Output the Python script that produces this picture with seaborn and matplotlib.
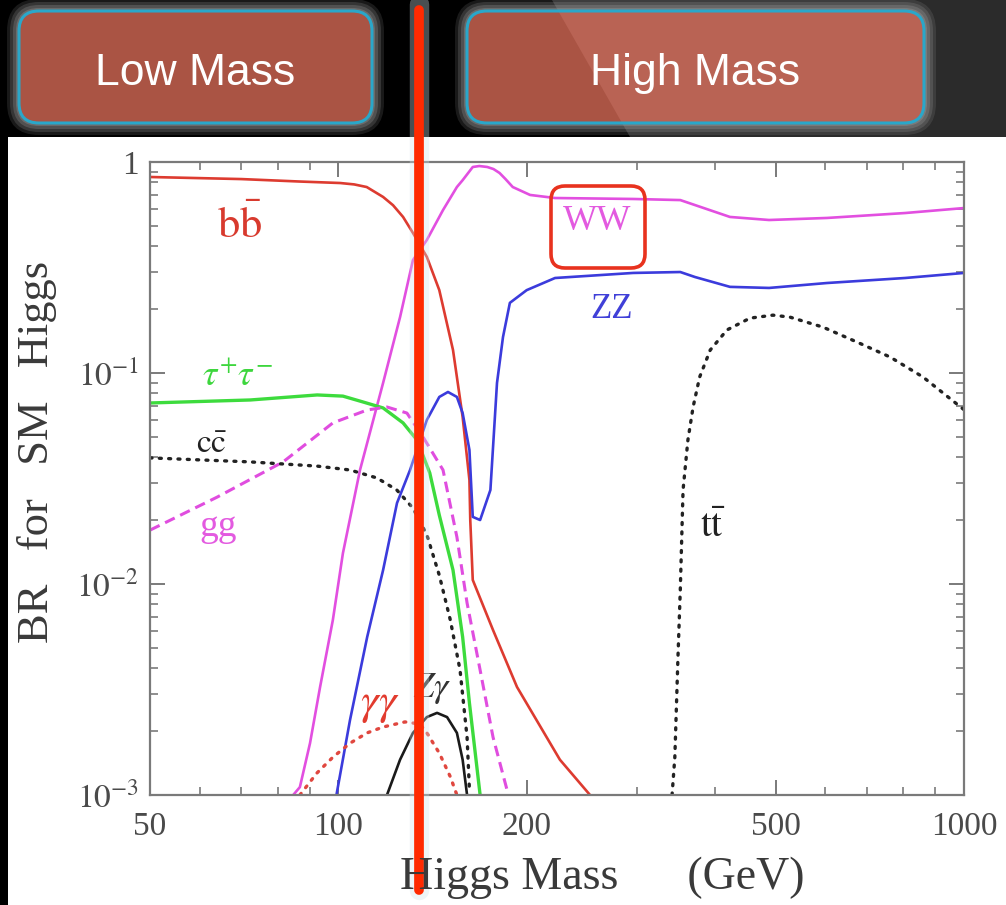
import math

import matplotlib
matplotlib.use("Agg")
import matplotlib.pyplot as plt
from matplotlib.patches import FancyBboxPatch, Polygon, Rectangle
from matplotlib.ticker import FixedLocator, LogLocator, NullFormatter, FuncFormatter
import seaborn as sns

# Higgs branching ratios (mass in GeV, BR)
mass_bb = [50, 70, 86.8, 93, 100.7, 106, 111, 117.9, 122.3, 126.9, 131.6, 138.5, 145, 152.5, 158, 162, 162.5, 164, 176.7, 193, 226, 252.5]
br_bb = [0.849, 0.83, 0.808, 0.802, 0.795, 0.783, 0.761, 0.683, 0.624, 0.549, 0.461, 0.355, 0.247, 0.1285, 0.0619, 0.0311, 0.0201, 0.01045, 0.00605, 0.00325, 0.00147, 0.001]

mass_ww = [84.7, 86.8, 90.1, 93.5, 98, 101.7, 108.3, 117.9, 125.5, 131.6, 138.5, 147, 154.7, 158, 164, 168, 173, 177, 181, 185, 190, 202.5, 222, 296, 352, 371.6, 422.6, 488, 604, 805, 1000]
br_ww = [0.001, 0.00109, 0.00176, 0.00325, 0.00675, 0.014, 0.0347, 0.0897, 0.184, 0.343, 0.427, 0.592, 0.761, 0.82, 0.947, 0.957, 0.947, 0.926, 0.887, 0.83, 0.761, 0.698, 0.675, 0.668, 0.660, 0.625, 0.549, 0.531, 0.543, 0.573, 0.605]

mass_zz = [99.3, 104.4, 111.2, 117.9, 124.1, 130.2, 138.5, 145, 149.7, 154.7, 158, 162, 164, 168.5, 175, 179.3, 183.3, 188, 200, 222, 296, 352, 371.6, 422.6, 488, 604, 805, 1000]
br_zz = [0.001, 0.00227, 0.00561, 0.01164, 0.0242, 0.0347, 0.0599, 0.077, 0.0813, 0.077, 0.0646, 0.0432, 0.0208, 0.0201, 0.0279, 0.0897, 0.148, 0.215, 0.247, 0.282, 0.298, 0.301, 0.285, 0.256, 0.253, 0.267, 0.282, 0.298]

mass_tautau = [50, 72.3, 92.5, 101.7, 109.5, 117.9, 126.9, 133.6, 140, 145, 152.5, 158, 162, 168.5]
br_tautau = [0.0721, 0.0745, 0.0787, 0.0777, 0.0729, 0.0683, 0.058, 0.0481, 0.0336, 0.0212, 0.01164, 0.00561, 0.00273, 0.001]

mass_gg = [50, 64, 81.6, 98, 111.2, 119.6, 128.7, 136.6, 147, 154.7, 160.6, 168.5, 176.7, 186]
br_gg = [0.018, 0.0258, 0.0379, 0.058, 0.0668, 0.069, 0.0646, 0.0497, 0.0347, 0.0167, 0.00813, 0.00391, 0.00188, 0.00106]

mass_cc = [50, 72.3, 92.5, 104.4, 115.3, 124, 131.6, 138.5, 145, 151, 156.5, 160.6, 162]
br_cc = [0.0396, 0.0379, 0.0362, 0.0347, 0.0318, 0.0279, 0.0229, 0.0171, 0.011, 0.00675, 0.00391, 0.00188, 0.00106]

mass_tt = [341.5, 345, 349, 352, 355.6, 362, 369, 378, 393, 418, 455, 495, 527, 595, 675, 762, 860, 1000]
br_tt = [0.001, 0.00151, 0.00451, 0.00937, 0.0279, 0.0481, 0.069, 0.0957, 0.1285, 0.160, 0.182, 0.188, 0.184, 0.165, 0.140, 0.119, 0.0957, 0.067]

mass_gamgam = [86.8, 92.4, 98, 104.4, 111.2, 117.9, 127.8, 135, 138.5, 145, 151, 154.7]
br_gamgam = [0.001, 0.00127, 0.00151, 0.00176, 0.00197, 0.0021, 0.00222, 0.00217, 0.00197, 0.00158, 0.00122, 0.001]

mass_zgam = [119.6, 125.5, 131.6, 138.5, 143.8, 149.2, 154.7, 158, 160.6]
br_zgam = [0.001, 0.00147, 0.00197, 0.00234, 0.00245, 0.00234, 0.00197, 0.00147, 0.001]

x_major = [50, 100, 200, 500, 1000]
y_major = [1e-3, 1e-2, 1e-1, 1]
marker_mass = 134.6

sns.set_theme(style="ticks")
plt.rcParams["font.family"] = ["Liberation Serif", "DejaVu Serif"]
plt.rcParams["mathtext.fontset"] = "stix"

W, H = 1006, 905
fig = plt.figure(figsize=(W / 100, H / 100), dpi=100)
fig.patch.set_facecolor("black")

# background layer in pixel units
bg = fig.add_axes([0, 0, 1, 1], zorder=0)
bg.set_xlim(0, W)
bg.set_ylim(H, 0)
bg.axis("off")
shade = Polygon([(552, 0), (W, 0), (W, 137), (630, 137)], closed=True, fc="#2b2b2b", ec="none")
bg.add_patch(shade)
bg.add_patch(Rectangle((8, 137), W - 8, H - 137, fc="white", ec="none"))


def mass_box(x0, x1, label):
    w, h, y0 = x1 - x0, 112, 11
    for pad, a in [(12, 0.15), (9, 0.2), (6, 0.25), (3, 0.3)]:
        bg.add_patch(FancyBboxPatch((x0 - pad, y0 - pad), w + 2 * pad, h + 2 * pad,
                                    boxstyle=f"round,pad=0,rounding_size={20 + pad}",
                                    fc="#a8a8a8", ec="none", alpha=a))
    bg.add_patch(FancyBboxPatch((x0, y0), w, h, boxstyle="round,pad=0,rounding_size=20",
                                fc="#aa5444", ec="none"))
    light = FancyBboxPatch((x0, y0), w, h, boxstyle="round,pad=0,rounding_size=20",
                           fc="#b96354", ec="none")
    bg.add_patch(light)
    light.set_clip_path(shade)
    bg.add_patch(FancyBboxPatch((x0, y0), w, h, boxstyle="round,pad=0,rounding_size=20",
                                fc="none", ec="#2aa7c9", lw=2.2))
    bg.text((x0 + x1) / 2, 85, label, ha="center", va="baseline", color="white",
            fontsize=32, family=["Liberation Sans", "DejaVu Sans"])


mass_box(19, 372, "Low Mass")
mass_box(467, 924, "High Mass")

# main chart
ax = fig.add_axes([150 / W, 1 - 795 / H, (964 - 150) / W, (795 - 162) / H], zorder=2)
ax.set_facecolor("none")

solid = dict(lw=1.9, sort=False, estimator=None)
sns.lineplot(x=mass_bb, y=br_bb, ax=ax, color="#dd3b30", **solid)
sns.lineplot(x=mass_ww, y=br_ww, ax=ax, color="#e24fe0", **solid)
sns.lineplot(x=mass_zz, y=br_zz, ax=ax, color="#3b3bdc", **solid)
sns.lineplot(x=mass_tautau, y=br_tautau, ax=ax, color="#3ddb3d", lw=2.4, sort=False, estimator=None)
sns.lineplot(x=mass_gg, y=br_gg, ax=ax, color="#e04ddf", lw=2.2, linestyle=(0, (3.5, 2)),
             sort=False, estimator=None)
dotted = dict(lw=2.4, linestyle=(0, (0.6, 2.2)), dash_capstyle="round", sort=False, estimator=None)
sns.lineplot(x=mass_cc, y=br_cc, ax=ax, color="#222222", **dotted)
sns.lineplot(x=mass_tt, y=br_tt, ax=ax, color="#222222", **dotted)
sns.lineplot(x=mass_gamgam, y=br_gamgam, ax=ax, color="#e0473f", **dotted)
sns.lineplot(x=mass_zgam, y=br_zgam, ax=ax, color="#1a1a1a", **solid)

ax.set_xscale("log")
ax.set_yscale("log")
ax.set_xlim(50, 1000)
ax.set_ylim(1e-3, 1)
ax.xaxis.set_major_locator(FixedLocator(x_major))
ax.xaxis.set_major_formatter(FuncFormatter(lambda v, _: f"{v:g}"))
ax.xaxis.set_minor_locator(LogLocator(base=10, subs=range(2, 10)))
ax.xaxis.set_minor_formatter(NullFormatter())
ax.yaxis.set_major_locator(FixedLocator(y_major))
ax.yaxis.set_major_formatter(FuncFormatter(
    lambda v, _: "1" if v == 1 else r"$10^{%d}$" % round(math.log10(v))))
ax.yaxis.set_minor_locator(LogLocator(base=10, subs=range(2, 10)))
ax.yaxis.set_minor_formatter(NullFormatter())
ax.tick_params(which="both", direction="in", top=True, right=True,
               colors="#7a7a7a", labelcolor="#4a4a4a")
ax.tick_params(which="major", length=11, width=1.4, labelsize=24)
ax.tick_params(axis="x", which="major", pad=12)
ax.tick_params(axis="y", which="major", pad=8)
ax.tick_params(which="minor", length=6, width=1.2)
for sp in ax.spines.values():
    sp.set_color("#7a7a7a")
    sp.set_linewidth(1.6)
ax.set_xlabel("")
ax.set_ylabel("")

# channel labels
ax.text(69.6, 0.50, r"$\mathrm{b\bar{b}}$", color="#d83a2e", fontsize=32, ha="center", va="center")
ax.text(68.9, 0.096, r"$\tau^{+}\tau^{-}$", color="#3dd63d", fontsize=26, ha="center", va="center")
ax.text(62.8, 0.0456, r"$\mathrm{c\bar{c}}$", color="#222222", fontsize=24, ha="center", va="center")
ax.text(64.2, 0.0186, "gg", color="#e35ae0", fontsize=27, ha="center", va="center")
ax.text(259, 0.52, "WW", color="#e35ae0", fontsize=26, ha="center", va="center")
ax.text(273, 0.199, "ZZ", color="#4040d8", fontsize=25, ha="center", va="center")
ax.text(397, 0.0186, r"$\mathrm{t\bar{t}}$", color="#222222", fontsize=28, ha="center", va="center")
ax.text(116.6, 0.00267, r"$\gamma\gamma$", color="#e23b2e", fontsize=32, ha="center", va="center")
ax.text(141, 0.00321, r"$Z\gamma$", color="#333333", fontsize=26, ha="center", va="center")

# marker line with a soft halo
ax.axvline(marker_mass, ymin=-0.150, ymax=1.25, color="#cfe3ea", lw=14, alpha=0.35, clip_on=False, zorder=5)
ax.axvline(marker_mass, ymin=-0.150, ymax=1.240, color="#ff2a00", lw=7, clip_on=False, zorder=6)

fig.text(37 / W, 1 - 452 / H, "BR   for   SM   Higgs", rotation=90, ha="center", va="center",
         fontsize=32, color="#3a3a3a")
fig.text(602 / W, 1 - 889 / H, "Higgs Mass      (GeV)", ha="center", va="baseline",
         fontsize=33, color="#3a3a3a")

# highlight box around WW
fg = fig.add_axes([0, 0, 1, 1], zorder=3)
fg.set_xlim(0, W)
fg.set_ylim(H, 0)
fg.axis("off")
fg.patch.set_alpha(0)
fg.add_patch(FancyBboxPatch((551, 186), 94, 82, boxstyle="round,pad=0,rounding_size=14",
                            fc="none", ec="#e8321e", lw=2.6))

fig.savefig("out.png", dpi=100)
plt.close(fig)
